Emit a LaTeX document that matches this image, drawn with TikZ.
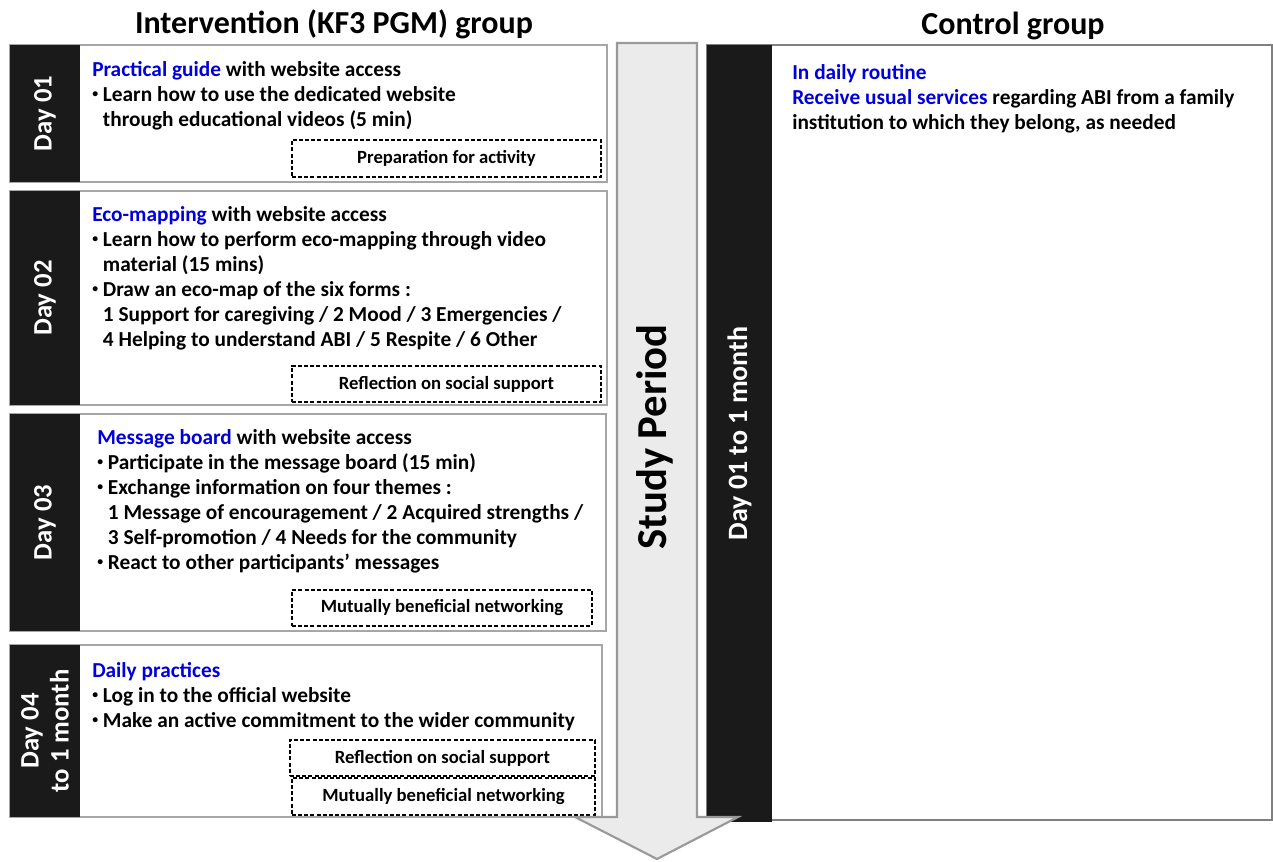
\documentclass[tikz,border=0pt]{standalone}
\usepackage{fontspec}
\setmainfont{Carlito}
\usetikzlibrary{fit}
\definecolor{bandblack}{HTML}{1A1A1A}
\definecolor{headblue}{RGB}{0,0,220}
\definecolor{boxgray}{HTML}{A6A6A6}
\definecolor{ctrlgray}{HTML}{808080}
\definecolor{arrowfill}{HTML}{EBEBEB}
\definecolor{arrowline}{HTML}{999999}
\newcommand{\hl}[1]{\textcolor{headblue}{#1}}
\newcommand{\smallbullet}{\raisebox{0.18em}{\scalebox{0.55}{\textbullet}}}
\newcommand{\itm}{\smallbullet\ }
\newcommand{\cnt}{\phantom{\smallbullet\ }}
\begin{document}
\begin{tikzpicture}[
	x=0.75pt,y=-0.75pt,
	line join=miter,
	font=\bfseries\fontsize{16}{18.75}\selectfont,
	daybox/.style={draw=boxgray,line width=0.8pt,fill=white,inner sep=0pt},
	dayband/.style={fill=bandblack,inner sep=0pt},
	daylabel/.style={text=white,rotate=90,align=center,font=\bfseries\fontsize{20}{22.5}\selectfont},
	daytext/.style={anchor=north west,align=left,inner sep=0pt},
	tagbox/.style={draw,line width=1.1pt,dash pattern=on 3pt off 1.6pt,inner sep=0pt},
	tagfont/.style={font=\bfseries\fontsize{14}{16}\selectfont},
	grouptitle/.style={font=\bfseries\fontsize{24}{26}\selectfont}
	]
	\useasboundingbox (0,0) rectangle (1273,861);
	% group titles
	\node[grouptitle] (ititle) at (334,24) {Intervention (KF3 PGM) group};
	\node[grouptitle] (ctitle) at (1013,26) {Control group};
	% intervention: day 01
	\node[daybox,fit={(10,45)(607,182)}] (day1box) {};
	\node[dayband,fit={(10,45)(80,182)}] (day1band) {};
	\node[daylabel] at (day1band.center) {Day 01};
	\node[daytext] (day1text) at (92,61) {\hl{Practical guide} with website access\\
		\itm Learn how to use the dedicated website\\
		\cnt through educational videos (5 min)};
	\node[tagbox,fit={(292,140)(601,177)},label={[tagfont]center:Preparation for activity}] (day1tag) {};
	% intervention: day 02
	\node[daybox,fit={(10,191)(607,405)}] (day2box) {};
	\node[dayband,fit={(10,191)(80,405)}] (day2band) {};
	\node[daylabel] at (day2band.center) {Day 02};
	\node[daytext] (day2text) at (92,206) {\hl{Eco-mapping} with website access\\
		\itm Learn how to perform eco-mapping through video\\
		\cnt material (15 mins)\\
		\itm Draw an eco-map of the six forms :\\
		\cnt 1 Support for caregiving / 2 Mood / 3 Emergencies /\\
		\cnt 4 Helping to understand ABI / 5 Respite / 6 Other};
	\node[tagbox,fit={(292,366)(601,402)},label={[tagfont]center:Reflection on social support}] (day2tag) {};
	% intervention: day 03
	\node[daybox,fit={(10,414)(606,631)}] (day3box) {};
	\node[dayband,fit={(10,414)(80,631)}] (day3band) {};
	\node[daylabel] at (day3band.center) {Day 03};
	\node[daytext] (day3text) at (97,429) {\hl{Message board} with website access\\
		\itm Participate in the message board (15 min)\\
		\itm Exchange information on four themes :\\
		\cnt 1 Message of encouragement / 2 Acquired strengths /\\
		\cnt 3 Self-promotion / 4 Needs for the community\\
		\itm React to other participants’ messages};
	\node[tagbox,fit={(292,590)(592,626)},label={[tagfont]center:Mutually beneficial networking}] (day3tag) {};
	% intervention: day 04 to 1 month
	\node[daybox,fit={(10,645)(602,817)}] (day4box) {};
	\node[dayband,fit={(10,645)(80,817)}] (day4band) {};
	\node[daylabel] at (day4band.center) {Day 04\\to 1 month};
	\node[daytext] (day4text) at (92,662) {\hl{Daily practices}\\
		\itm Log in to the official website\\
		\itm Make an active commitment to the wider community};
	\node[tagbox,fit={(290,740)(595,776)},label={[tagfont]center:Reflection on social support}] (day4tagA) {};
	\node[tagbox,fit={(292,778)(595,815)},label={[tagfont]center:Mutually beneficial networking}] (day4tagB) {};
	% control group
	\node[draw=ctrlgray,line width=0.9pt,inner sep=0pt,fit={(707,45)(1272,820)}] (ctrlbox) {};
	\node[dayband,fit={(707,45)(772,822)}] (ctrlband) {};
	\node[daylabel,font=\bfseries\fontsize{21}{22}\selectfont] at (ctrlband.center) {Day 01 to 1 month};
	\node[daytext] (ctrltext) at (792,64) {\hl{In daily routine}\\
		\hl{Receive usual services} regarding ABI from a family\\
		institution to which they belong, as needed};
	% study period arrow
	\draw[fill=arrowfill,draw=arrowline,line width=1.6pt]
		(617,43) -- (697,43) -- (697,817) -- (738,817) -- (657,859) -- (575,817) -- (617,817) -- cycle;
	\node[rotate=90,font=\bfseries\fontsize{32}{34}\selectfont] (period) at (655,437) {Study Period};
\end{tikzpicture}
\end{document}
